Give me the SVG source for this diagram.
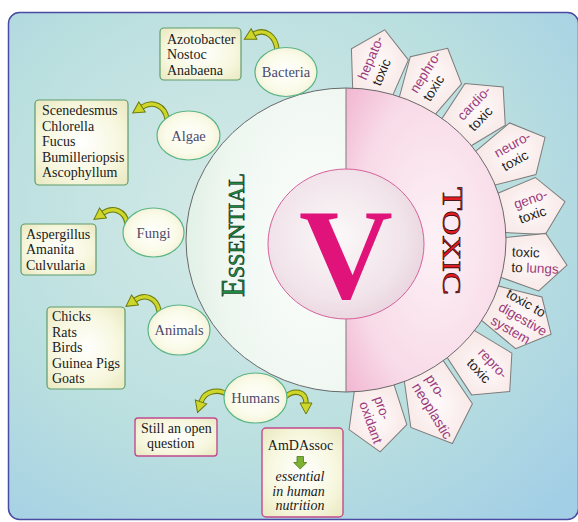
<svg xmlns="http://www.w3.org/2000/svg" xmlns:xlink="http://www.w3.org/1999/xlink" width="578" height="522" viewBox="0 0 578 522">
<defs>
<style>
.pent{fill:url(#gPent);stroke:#7c7c7c;stroke-width:1}
.pt{font-family:"Liberation Sans",Arial,sans-serif;font-size:13.5px;fill:#1c1c1c}
.pu{fill:#9a3a7c}
.ell{fill:url(#gEll);stroke:#5bb585;stroke-width:1.2}
.el{font-family:"Liberation Serif","Times New Roman",serif;font-size:14.5px;fill:#4a4a6a;text-anchor:middle}
.box{fill:url(#gBox);stroke:#5f9c6c;stroke-width:1.2}
.boxm{fill:url(#gBox);stroke:#c24a8e;stroke-width:1.4}
.bt{font-family:"Liberation Serif","Times New Roman",serif;font-size:14px;fill:#1a1a1a}
.ao{fill:none;stroke:#6b7a12;stroke-width:5.5;stroke-linecap:round}
.ai{fill:none;stroke:#cfd62a;stroke-width:3.4;stroke-linecap:round}
</style>
<radialGradient id="gBg" cx="0.42" cy="0.4" r="0.78">
<stop offset="0" stop-color="#d6ebe8"/><stop offset="0.6" stop-color="#badfdf"/><stop offset="1" stop-color="#a3cfe6"/>
</radialGradient>
<radialGradient id="gGreen" cx="0.8" cy="0.5" r="0.95">
<stop offset="0" stop-color="#fcfefc"/><stop offset="0.6" stop-color="#eff7f1"/><stop offset="1" stop-color="#d9ecdd"/>
</radialGradient>
<radialGradient id="gPink" cx="0.55" cy="0.5" r="0.8">
<stop offset="0" stop-color="#fdf1f6"/><stop offset="0.6" stop-color="#f8dbe8"/><stop offset="1" stop-color="#f0aecb"/>
</radialGradient>
<radialGradient id="gInner" cx="0.45" cy="0.45" r="0.6">
<stop offset="0" stop-color="#fbf8f9"/><stop offset="0.7" stop-color="#f1e4ea"/><stop offset="1" stop-color="#e9d3de"/>
</radialGradient>
<radialGradient id="gBox" cx="0.5" cy="0.5" r="0.7">
<stop offset="0" stop-color="#ffffff"/><stop offset="0.6" stop-color="#f7f7df"/><stop offset="1" stop-color="#e8e8bf"/>
</radialGradient>
<radialGradient id="gEll" cx="0.5" cy="0.5" r="0.6">
<stop offset="0" stop-color="#ffffff"/><stop offset="0.6" stop-color="#fbfbea"/><stop offset="1" stop-color="#eeeed2"/>
</radialGradient>
<radialGradient id="gPent" cx="0.5" cy="0.5" r="0.6">
<stop offset="0" stop-color="#fffafa"/><stop offset="1" stop-color="#f6e6e4"/>
</radialGradient>
<polygon id="pent" class="pent" points="35,0 10,29 -34,19 -34,-19 10,-29"/>
<marker id="ah" markerUnits="userSpaceOnUse" markerWidth="14" markerHeight="14" refX="1" refY="7" orient="auto" viewBox="0 0 14 14">
<path d="M1,1 L12,7 L1,13 Z" fill="#cfd62a" stroke="#6b7a12" stroke-width="1"/>
</marker>
</defs>

<rect x="0" y="0" width="578" height="522" fill="#ffffff"/>
<rect x="8.5" y="12.5" width="570" height="507" rx="11" fill="url(#gBg)" stroke="#4a4aa2" stroke-width="1.5"/>

<g id="hepato" transform="translate(377.6,66.1) rotate(-79) translate(2,0)">
<use xlink:href="#pent" href="#pent"/>
<text class="pt" transform="translate(3,0) rotate(12)"><tspan x="-22.9" y="-4" class="pu">hepato-</tspan><tspan x="-22.9" y="11.5">toxic</tspan></text>
</g>
<g id="nephro" transform="translate(430.3,80.9) rotate(-62) translate(2,0)">
<use xlink:href="#pent" href="#pent"/>
<text class="pt" transform="translate(3,0) rotate(4)"><tspan x="-23.3" y="-4" class="pu">nephro-</tspan><tspan x="-23.3" y="11.5">toxic</tspan></text>
</g>
<g id="cardio" transform="translate(476.5,112.6) rotate(-44) translate(2,0)">
<use xlink:href="#pent" href="#pent"/>
<text class="pt" transform="translate(3,0) rotate(-2)"><tspan x="-20.6" y="-4" class="pu">cardio-</tspan><tspan x="-20.6" y="11.5">toxic</tspan></text>
</g>
<g id="neuro" transform="translate(512.1,154.2) rotate(-27) translate(2,0)">
<use xlink:href="#pent" href="#pent"/>
<text class="pt" transform="translate(3,0) rotate(-2)"><tspan x="-19.5" y="-4" class="pu">neuro-</tspan><tspan x="-19.5" y="11.5">toxic</tspan></text>
</g>
<g id="geno" transform="translate(528.5,208.1) rotate(-10) translate(2,0)">
<use xlink:href="#pent" href="#pent"/>
<text class="pt" transform="translate(3,0) rotate(-9)"><tspan x="-17.3" y="-4" class="pu">geno-</tspan><tspan x="-17.3" y="11.5">toxic</tspan></text>
</g>
<g id="lungs" transform="translate(530.3,260.7) rotate(7) translate(2,0)">
<use xlink:href="#pent" href="#pent"/>
<text class="pt" transform="translate(3,0) rotate(-5)"><tspan x="-23.7" y="-4">toxic</tspan><tspan x="-23.7" y="11.5">to <tspan class="pu">lungs</tspan></tspan></text>
</g>
<g id="digestive" transform="translate(518.1,317.4) rotate(27) translate(2,0)">
<use xlink:href="#pent" href="#pent"/>
<text class="pt" transform="translate(3,0) rotate(3)"><tspan x="-26.7" y="-11.5">toxic to</tspan><tspan x="-26.7" y="4" class="pu">digestive</tspan><tspan x="-26.7" y="19.5" class="pu">system</tspan></text>
</g>
<g id="repro" transform="translate(483.1,365.7) rotate(44) translate(2,0)">
<use xlink:href="#pent" href="#pent"/>
<text class="pt" transform="translate(3,0) rotate(3)"><tspan x="-18" y="-4" class="pu">repro-</tspan><tspan x="-18" y="11.5">toxic</tspan></text>
</g>
<g id="neoplastic" transform="translate(436.6,402.5) rotate(69) translate(2,0)">
<polygon class="pent" points="42,0 12,33 -44,20 -44,-20 12,-33"/>
<text class="pt" transform="translate(3,0) rotate(-11)" style="font-size:14px"><tspan x="-31.5" y="-4" class="pu">pro-</tspan><tspan x="-31.5" y="12" class="pu">neoplastic</tspan></text>
</g>
<g id="oxidant" transform="translate(376.9,415.1) rotate(85) translate(2,0)">
<use xlink:href="#pent" href="#pent"/>
<text class="pt" transform="translate(3,0) rotate(-15)"><tspan x="-21.8" y="-4" class="pu">pro-</tspan><tspan x="-21.8" y="11.5" class="pu">oxidant</tspan></text>
</g>

<g id="vanadium">
<path d="M346,88 A160,152 0 0 0 346,392 Z" fill="url(#gGreen)"/>
<path d="M346,88 A160,152 0 0 1 346,392 Z" fill="url(#gPink)"/>
<ellipse cx="346" cy="240" rx="160" ry="152" fill="none" stroke="#5a5a5a" stroke-width="0.9"/>
<line x1="346" y1="88" x2="346" y2="392" stroke="#7a7a7a" stroke-width="1"/>
<ellipse cx="346" cy="244" rx="78" ry="75" fill="url(#gInner)" stroke="#d6609a" stroke-width="1"/>
<text x="346" y="298" text-anchor="middle" font-family="Liberation Serif,'Times New Roman',serif" font-weight="bold" font-size="130" fill="#e0137a">V</text>
<text transform="translate(244,297) rotate(-90)" font-family="Liberation Serif,'Times New Roman',serif" font-size="24" fill="#1c8a40" stroke="#0a2a12" stroke-width="0.6" textLength="124" lengthAdjust="spacingAndGlyphs"><tspan font-size="33">E</tspan><tspan>SSENTIAL</tspan></text>
<text transform="translate(443,187) rotate(90)" font-family="Liberation Serif,'Times New Roman',serif" font-size="26" fill="#e21a22" stroke="#250000" stroke-width="0.6" textLength="108" lengthAdjust="spacingAndGlyphs"><tspan font-size="29">T</tspan><tspan>OXIC</tspan></text>
</g>

<g id="connectors">
<path class="ao" d="M277,50 C276,36 265,28 254,34"/>
<path class="ai" d="M277,50 C276,36 265,28 254,34" marker-end="url(#ah)"/>
<path class="ao" d="M167,119 C165,106 153,100 142,107"/>
<path class="ai" d="M167,119 C165,106 153,100 142,107" marker-end="url(#ah)"/>
<path class="ao" d="M127,223 C125,211 113,206 103,213"/>
<path class="ai" d="M127,223 C125,211 113,206 103,213" marker-end="url(#ah)"/>
<path class="ao" d="M159,311 C157,298 145,293 135,300"/>
<path class="ai" d="M159,311 C157,298 145,293 135,300" marker-end="url(#ah)"/>
<path class="ao" d="M229,396 C220,388 205,390 201,402"/>
<path class="ai" d="M229,396 C220,388 205,390 201,402" marker-end="url(#ah)"/>
<path class="ao" d="M285,397 C294,389 306,391 306,403"/>
<path class="ai" d="M285,397 C294,389 306,391 306,403" marker-end="url(#ah)"/>
</g>

<g id="bacteria">
<ellipse class="ell" cx="286" cy="72" rx="31" ry="24.5"/>
<text class="el" x="286" y="77">Bacteria</text>
</g>
<g id="algae">
<ellipse class="ell" cx="188.5" cy="135.5" rx="31.5" ry="24.5"/>
<text class="el" x="188.5" y="140.5">Algae</text>
</g>
<g id="fungi">
<ellipse class="ell" cx="153.5" cy="232.5" rx="30.5" ry="24.5"/>
<text class="el" x="153.5" y="237.5">Fungi</text>
</g>
<g id="animals">
<ellipse class="ell" cx="179" cy="330" rx="31" ry="25"/>
<text class="el" x="179" y="335">Animals</text>
</g>
<g id="humans">
<ellipse class="ell" cx="255.5" cy="398" rx="31.5" ry="25"/>
<text class="el" x="255.5" y="403">Humans</text>
</g>

<g id="bacteria-list">
<rect class="box" x="160" y="28" width="81" height="52" rx="4"/>
<text class="bt"><tspan x="167" y="43.5">Azotobacter</tspan><tspan x="167" y="59">Nostoc</tspan><tspan x="167" y="74.5">Anabaena</tspan></text>
</g>
<g id="algae-list">
<rect class="box" x="35" y="100" width="93" height="85" rx="4"/>
<text class="bt"><tspan x="42" y="115">Scenedesmus</tspan><tspan x="42" y="130.5">Chlorella</tspan><tspan x="42" y="146">Fucus</tspan><tspan x="42" y="161.5">Bumilleriopsis</tspan><tspan x="42" y="177">Ascophyllum</tspan></text>
</g>
<g id="fungi-list">
<rect class="box" x="21" y="224" width="75" height="51" rx="4"/>
<text class="bt"><tspan x="26" y="238.5">Aspergillus</tspan><tspan x="26" y="254">Amanita</tspan><tspan x="26" y="269.5">Culvularia</tspan></text>
</g>
<g id="animals-list">
<rect class="box" x="47" y="307" width="78" height="82" rx="4"/>
<text class="bt"><tspan x="52" y="321">Chicks</tspan><tspan x="52" y="336.5">Rats</tspan><tspan x="52" y="352">Birds</tspan><tspan x="52" y="367.5">Guinea Pigs</tspan><tspan x="52" y="383">Goats</tspan></text>
</g>
<g id="open-question">
<rect class="boxm" x="135" y="418" width="82" height="38" rx="3"/>
<text class="bt"><tspan x="141" y="433">Still an open</tspan><tspan x="147" y="447.5">question</tspan></text>
</g>
<g id="amdassoc">
<rect class="boxm" x="262" y="428" width="81" height="89" rx="4"/>
<text class="bt" x="300.5" y="449.5" text-anchor="middle">AmDAssoc</text>
<path d="M297,456.5 H303.5 V462.5 H306.8 L300.2,469 L293.7,462.5 H297 Z" fill="#7db233" stroke="#4d7a1e" stroke-width="0.8"/>
<text class="bt" text-anchor="middle" font-style="italic"><tspan x="300" y="481">essential</tspan><tspan x="298.5" y="495.5">in human</tspan><tspan x="300" y="510">nutrition</tspan></text>
</g>
</svg>
